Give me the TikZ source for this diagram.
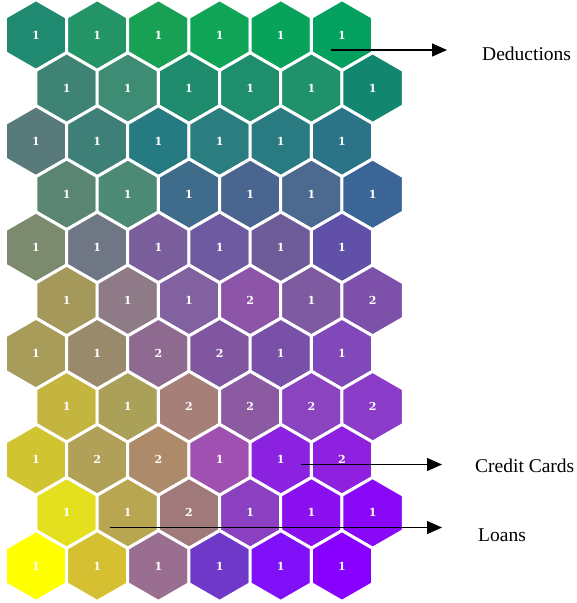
\documentclass[tikz,border=0pt]{standalone}
\usepackage{fontspec}
\setmainfont{Liberation Serif}
\newfontfamily\cellfont{DejaVu Serif}
\usetikzlibrary{shapes.geometric,arrows.meta}
\tikzset{
  hexcell/.style={regular polygon, regular polygon sides=6, minimum size=70.8pt,
    shape border rotate=30,
    inner sep=0pt, draw=white, line width=3pt, text=white,
    font=\cellfont\bfseries\fontsize{11}{13}\selectfont},
  pointer/.style={draw=black, line width=1.3pt, -{Triangle[length=15pt,width=13pt]}},
  tag/.style={anchor=west, inner sep=0pt, font=\fontsize{19.5}{22}\selectfont}
}
\begin{document}
\begin{tikzpicture}[x=1pt,y=-1pt]
\useasboundingbox (0,0) rectangle (577,603);
\foreach \r/\c/\col/\n in {
 0/0/1F8A70/1, 0/1/229466/1, 0/2/18A055/1, 0/3/10A556/1, 0/4/08A25A/1, 0/5/04A060/1,
 1/0/3F8375/1, 1/1/3E8C74/1, 1/2/1F8C6E/1, 1/3/1F8E6C/1, 1/4/1F926C/1, 1/5/12866E/1,
 2/0/587A7B/1, 2/1/3E8077/1, 2/2/267A82/1, 2/3/2A7E80/1, 2/4/2A7A82/1, 2/5/2B7488/1,
 3/0/5A8573/1, 3/1/4C8A76/1, 3/2/3F6C8A/1, 3/3/4A6590/1, 3/4/4C6A90/1, 3/5/3A6596/1,
 4/0/7C8A6E/1, 4/1/6F7785/1, 4/2/7A5F9C/1, 4/3/6E5AA0/1, 4/4/6E5C98/1, 4/5/6050A8/1,
 5/0/A4985A/1, 5/1/8F7A88/1, 5/2/8261A0/1, 5/3/8C55A8/2, 5/4/7E5AA0/1, 5/5/7D50AA/2,
 6/0/A89C5A/1, 6/1/998A6C/1, 6/2/8E6A90/2, 6/3/8056A0/2, 6/4/7850A8/1, 6/5/8048B8/1,
 7/0/C4B440/1, 7/1/AAA058/1, 7/2/A67F78/2, 7/3/8C5AA0/2, 7/4/8A44C0/2, 7/5/8A3CC8/2,
 8/0/D0C430/1, 8/1/B0A058/2, 8/2/AD8A6A/2, 8/3/A050B0/1, 8/4/8A22E0/1, 8/5/9020E0/2,
 9/0/E4E020/1, 9/1/B8A650/1, 9/2/A07A7A/2, 9/3/8A40C0/1, 9/4/8A10F0/1, 9/5/8A08F8/1,
 10/0/FFFF00/1, 10/1/D4C030/1, 10/2/9A6E90/1, 10/3/7038C8/1, 10/4/8010F8/1, 10/5/8800FF/1}
{
  \pgfmathsetmacro\xx{36+61.2*\c+30.6*mod(\r,2)}
  \pgfmathsetmacro\yy{35+53.1*\r}
  \definecolor{cellfill}{HTML}{\col}
  \node[hexcell, fill=cellfill] (h\r-\c) at (\xx,\yy) {\n};
}
\node[tag] (ded) at (482,54) {Deductions};
\node[tag] (cc) at (475,466) {Credit Cards};
\node[tag] (loans) at (478,535) {Loans};
\coordinate (dedS) at (331,50);
\coordinate (dedE) at (447,50);
\coordinate (ccS) at (301,464.5);
\coordinate (ccE) at (442,464.5);
\coordinate (loS) at (110,527.5);
\coordinate (loE) at (442,527.5);
\draw[pointer] (dedS) -- (dedE);
\draw[pointer] (ccS) -- (ccE);
\draw[pointer] (loS) -- (loE);
\end{tikzpicture}
\end{document}
